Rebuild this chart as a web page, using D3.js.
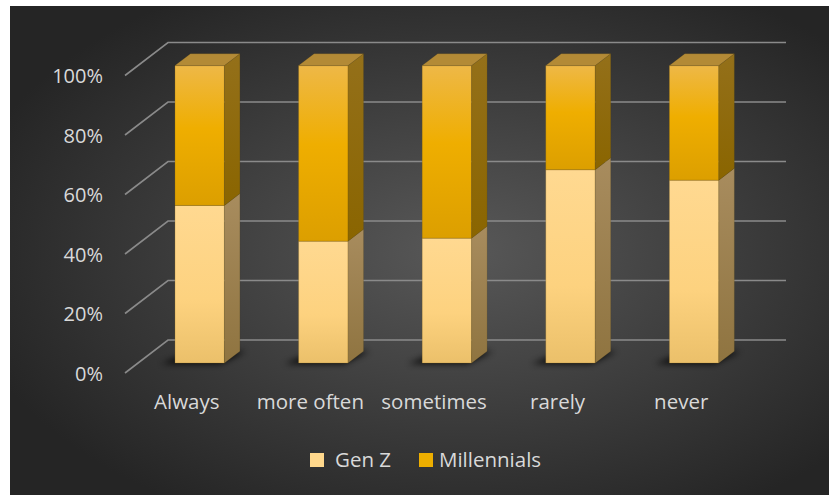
<!DOCTYPE html>
<html>
<head>
<meta charset="utf-8">
<script src="https://cdn.jsdelivr.net/npm/d3@7"></script>
<style>
  html, body { margin: 0; padding: 0; background: #ffffff; }
  svg { display: block; }
  text { font-family: "Open Sans", "Noto Sans", sans-serif; fill: #d9d9d9; }
</style>
</head>
<body>
<svg id="chart" width="829" height="495"></svg>
<script>
// Survey answers, share of each generation per answer (100% stacked)
const categories = ["Always", "more often", "sometimes", "rarely", "never"];
const seriesNames = ["Gen Z", "Millennials"];
const genZ = [53, 41, 42, 65, 61.5];
const millennials = [47, 59, 58, 35, 38.5];
const tickValues = [0, 20, 40, 60, 80, 100];

const rows = categories.map((c, i) => ({ cat: c, "Gen Z": genZ[i], "Millennials": millennials[i] }));
const stacked = d3.stack().keys(seriesNames)(rows);

const svg = d3.select("#chart");
const defs = svg.append("defs");

// layout of the 3D box: front plane, and the depth vector to the back wall
const front = { x0: 125, x1: 743, yBottom: 373, yTop: 75.5 };
const depth = { dx: 43, dy: -33 };
const barZ0 = 0.30, barZ1 = 0.66;   // bar front / back, as a fraction of depth

const x = d3.scaleBand().domain(categories).range([front.x0, front.x1])
  .paddingInner(0.6).paddingOuter(0.3);
const y = d3.scaleLinear().domain([0, 100]).range([front.yBottom, front.yTop]);

const P = (px, py, z) => [px + depth.dx * z, py + depth.dy * z];
const poly = pts => pts.map(p => p.join(",")).join(" ");

// background panel
const bg = defs.append("radialGradient").attr("id", "bg")
  .attr("cx", "0.55").attr("cy", "0.5").attr("r", "0.62");
bg.append("stop").attr("offset", "0").attr("stop-color", "#585858");
bg.append("stop").attr("offset", "1").attr("stop-color", "#252525");
svg.append("rect").attr("x", 10).attr("y", 6).attr("width", 819).attr("height", 489)
  .attr("fill", "url(#bg)");

// face gradients
function vgrad(id, stops) {
  const g = defs.append("linearGradient").attr("id", id)
    .attr("x1", 0).attr("y1", 0).attr("x2", 0).attr("y2", 1);
  stops.forEach(([o, c]) => g.append("stop").attr("offset", o).attr("stop-color", c));
}
vgrad("genzFront", [[0, "#ffd991"], [0.6, "#fdd27f"], [1, "#ebc06a"]]);
vgrad("genzSide", [[0, "#a88c5e"], [1, "#8f7440"]]);
vgrad("milFront", [[0, "#eeb847"], [0.45, "#efae00"], [1, "#dc9f00"]]);
vgrad("milSide", [[0, "#94701a"], [1, "#8a6500"]]);
const faceFill = { "Gen Z": ["url(#genzFront)", "url(#genzSide)"], "Millennials": ["url(#milFront)", "url(#milSide)"] };
const legendFill = { "Gen Z": "#ffd88c", "Millennials": "#edae00" };

const blur = defs.append("filter").attr("id", "shadowBlur")
  .attr("x", "-50%").attr("y", "-50%").attr("width", "200%").attr("height", "200%");
blur.append("feGaussianBlur").attr("stdDeviation", 3.2);

// gridlines: left wall diagonal plus line along the back wall
const grid = svg.append("g").attr("stroke", "#8a8a8a").attr("stroke-width", 1.6).attr("fill", "none");
tickValues.forEach(t => {
  const a = [front.x0, y(t)];
  const b = P(front.x0, y(t), 1);
  const c = P(front.x1, y(t), 1);
  grid.append("polyline").attr("points", poly([a, b, c]));
});

// y tick labels
const yAxis = d3.axisLeft(y).tickValues(tickValues).tickSize(0).tickPadding(0)
  .tickFormat(d => d + "%");
const ya = svg.append("g").attr("transform", `translate(103,1)`).call(yAxis);
ya.select(".domain").remove();
ya.selectAll("text").attr("font-size", 20).attr("fill", "#d9d9d9")
  .attr("font-family", "'Open Sans', sans-serif");

// bars
const bars = svg.append("g");
categories.forEach((c, i) => {
  const xl = x(c), xr = x(c) + x.bandwidth();
  // floor shadow
  const sh = [P(xl - 14, y(0) + 1, barZ0), P(xr - 4, y(0) + 1, barZ0),
              P(xr + 6, y(0), barZ1), P(xl, y(0), barZ1)];
  bars.append("polygon").attr("points", poly(sh)).attr("fill", "#000")
    .attr("opacity", 0.8).attr("filter", "url(#shadowBlur)");
});
categories.forEach((c, i) => {
  const xl = x(c), xr = x(c) + x.bandwidth();
  stacked.forEach(s => {
    const d = s[i];
    const yb = y(d[0]), yt = y(d[1]);
    const [f, sd] = faceFill[s.key];
    // front face
    const fp = [P(xl, yt, barZ0), P(xr, yt, barZ0), P(xr, yb, barZ0), P(xl, yb, barZ0)];
    bars.append("polygon").attr("points", poly(fp)).attr("fill", f)
      .attr("stroke", "rgba(120,90,20,0.35)").attr("stroke-width", 0.7);
    // side face
    const sp = [P(xr, yt, barZ0), P(xr, yt, barZ1), P(xr, yb, barZ1), P(xr, yb, barZ0)];
    bars.append("polygon").attr("points", poly(sp)).attr("fill", sd)
      .attr("stroke", "rgba(90,65,10,0.3)").attr("stroke-width", 0.5);
    // top face on the uppermost segment
    if (d[1] >= 100) {
      const tp = [P(xl, yt, barZ0), P(xr, yt, barZ0), P(xr, yt, barZ1), P(xl, yt, barZ1)];
      bars.append("polygon").attr("points", poly(tp)).attr("fill", "#b38a36")
        .attr("stroke", "rgba(90,65,10,0.3)").attr("stroke-width", 0.5);
    }
  });
});

// category labels
svg.append("g").selectAll("text").data(categories).join("text")
  .attr("x", d => x(d) + x.bandwidth() / 2)
  .attr("y", 409)
  .attr("text-anchor", "middle")
  .attr("font-size", 20.5)
  .text(d => d);

// legend
const legendPos = [{ sx: 310, tx: 335 }, { sx: 419, tx: 439 }];
const lg = svg.append("g");
seriesNames.forEach((n, i) => {
  lg.append("rect").attr("x", legendPos[i].sx).attr("y", 453).attr("width", 14).attr("height", 14)
    .attr("fill", legendFill[n]);
  lg.append("text").attr("x", legendPos[i].tx).attr("y", 467).attr("font-size", 20.5).text(n);
});
</script>
</body>
</html>
